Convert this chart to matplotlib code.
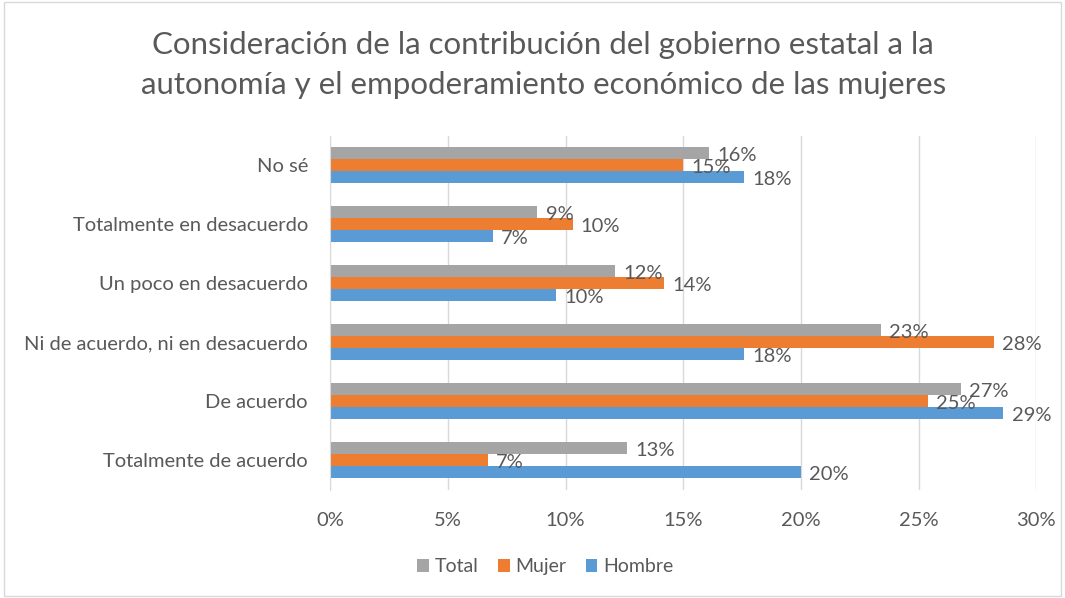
import matplotlib.pyplot as plt
import numpy as np
from matplotlib.patches import Rectangle

plt.rcParams['font.family'] = ['Lato', 'DejaVu Sans']

categories = ["No sé", "Totalmente en desacuerdo", "Un poco en desacuerdo",
              "Ni de acuerdo, ni en desacuerdo", "De acuerdo", "Totalmente de acuerdo"]
total = [16.1, 8.8, 12.1, 23.4, 26.8, 12.6]
mujer = [15.0, 10.3, 14.2, 28.2, 25.4, 6.7]
hombre = [17.6, 6.9, 9.6, 17.6, 28.6, 20.0]
series_names = ["Total", "Mujer", "Hombre"]
colors = ["#A5A5A5", "#ED7D31", "#5B9BD5"]
xticks = [0, 5, 10, 15, 20, 25, 30]

text_color = "#595959"
fig = plt.figure(figsize=(10.65, 5.98), dpi=100)
ax = fig.add_axes([0.31, 0.181, 0.663, 0.592])

y = np.arange(len(categories))
h = 0.205
offsets = [-h, 0, h]
handles = []
for vals, name, c, off in zip([total, mujer, hombre], series_names, colors, offsets):
    bars = ax.barh(y + off, vals, height=h, color=c, label=name, zorder=3)
    handles.append(bars)
    for yi, v in zip(y + off, vals):
        ax.text(v + 0.35, yi + 0.04, f"{v:.0f}%", va="center", ha="left",
                fontsize=14.5, color=text_color, zorder=4)

ax.set_ylim(len(categories) - 0.5, -0.5)
ax.set_xlim(0, 30)
ax.set_xticks(xticks)
ax.set_xticklabels([f"{t}%" for t in xticks], fontsize=14.5, color=text_color)
ax.set_yticks(y)
ax.set_yticklabels(categories, fontsize=14.5, color=text_color)
ax.tick_params(axis="both", length=0)
ax.tick_params(axis="x", pad=16)
ax.tick_params(axis="y", pad=16)
ax.grid(axis="x", color="#D9D9D9", linewidth=1, zorder=0)
for s in ["top", "right", "bottom"]:
    ax.spines[s].set_visible(False)
ax.spines["left"].set_color("#D9D9D9")
ax.spines["left"].set_zorder(5)

fig.text(0.51, 0.891, "Consideración de la contribución del gobierno estatal a la\n"
         "autonomía y el empoderamiento económico de las mujeres",
         ha="center", va="center", fontsize=22.5, color=text_color, linespacing=1.5)

fig.legend(handles=handles, labels=series_names, loc="center", bbox_to_anchor=(0.512, 0.052),
           ncol=3, frameon=False, fontsize=14, labelcolor=text_color,
           handlelength=0.6, handleheight=0.6, handletextpad=0.3, columnspacing=1.0)

fig.patches.append(Rectangle((0.004, 0.004), 0.992, 0.992, transform=fig.transFigure,
                             fill=False, edgecolor="#D9D9D9", linewidth=1))

fig.savefig("out.png", dpi=100)
